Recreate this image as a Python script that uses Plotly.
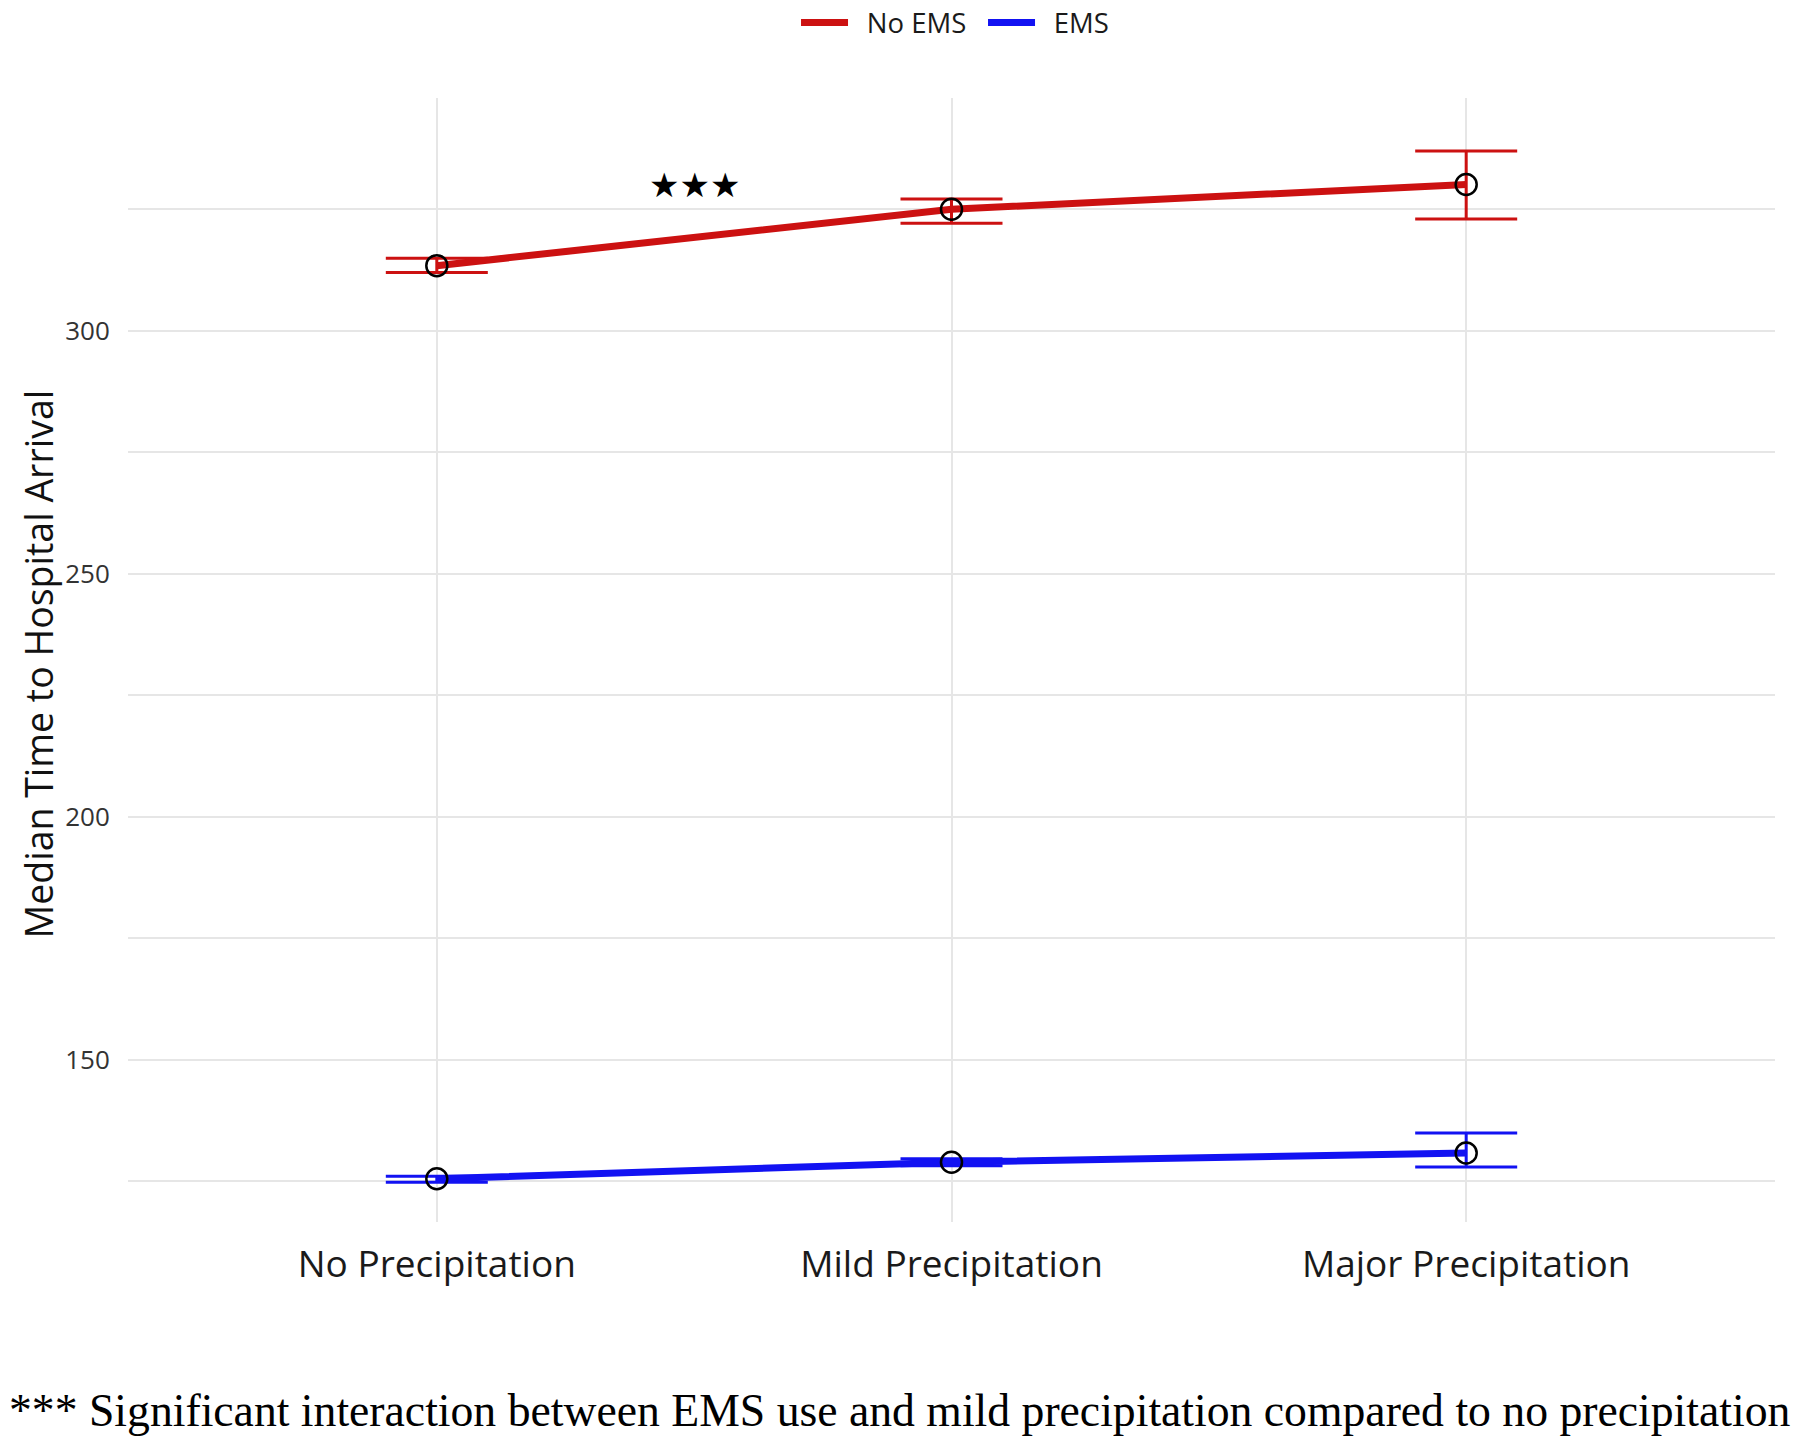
import plotly.graph_objects as go

categories = ["No Precipitation", "Mild Precipitation", "Major Precipitation"]

no_ems_median = [313.4, 325.0, 330.1]
no_ems_lower = [312.0, 322.1, 323.0]
no_ems_upper = [314.9, 327.1, 337.0]

ems_median = [125.5, 128.9, 130.8]
ems_lower = [124.8, 128.2, 127.9]
ems_upper = [126.0, 129.6, 134.9]

series = [
    ("No EMS", no_ems_median, no_ems_lower, no_ems_upper, "#CC1111"),
    ("EMS", ems_median, ems_lower, ems_upper, "#1212F2"),
]

y_ticks = [150, 200, 250, 300]
y_minor = [125, 175, 225, 275, 325]

fig = go.Figure()
for name, med, lo, hi, col in series:
    fig.add_trace(go.Scatter(
        x=categories, y=med, mode="lines", name="\u2002" + name,
        line=dict(color=col, width=7),
        error_y=dict(type="data", symmetric=False,
                     array=[h - m for h, m in zip(hi, med)],
                     arrayminus=[m - l for m, l in zip(med, lo)],
                     color=col, thickness=3, width=51),
    ))
for name, med, lo, hi, col in series:
    fig.add_trace(go.Scatter(
        x=categories, y=med, mode="markers", showlegend=False,
        marker=dict(symbol="circle-open", size=21, color="black",
                    line=dict(width=2.5, color="black")),
    ))

grid = "#E6E6E6"
fig.update_layout(
    width=1800, height=1443,
    margin=dict(l=128, r=25, t=98, b=221, autoexpand=False),
    plot_bgcolor="white", paper_bgcolor="white",
    font=dict(family="Open Sans", color="#222222"),
    showlegend=True,
    legend=dict(orientation="h", x=0.4056, xanchor="left", y=1.067, yanchor="middle",
                itemwidth=47, entrywidth=125, entrywidthmode="pixels",
                font=dict(size=27.5, color="#1a1a1a"), traceorder="normal"),
    xaxis=dict(type="category", range=[-0.6, 2.6], showgrid=True, gridcolor=grid, gridwidth=2,
               zeroline=False, showline=False, ticks="outside", ticklen=10,
               tickcolor="rgba(0,0,0,0)", tickfont=dict(size=37, color="#1a1a1a")),
    yaxis=dict(range=[116.6, 347.9], tickvals=y_ticks, showgrid=True, gridcolor=grid, gridwidth=2,
               zeroline=False, showline=False, ticks="outside", ticklen=12,
               tickcolor="rgba(0,0,0,0)", tickfont=dict(size=26, color="#333333"),
               minor=dict(tickvals=y_minor, showgrid=True, gridcolor=grid, gridwidth=2, ticks="")),
)

fig.add_annotation(x=0.5, y=330.0, xref="x", yref="y", text="★★★", showarrow=False,
                   font=dict(family="DejaVu Sans", size=34, color="black"))
fig.add_annotation(x=-0.0546, y=0.496, xref="paper", yref="paper", xanchor="center", yanchor="middle",
                   text="Median Time to Hospital Arrival", textangle=-90, showarrow=False,
                   font=dict(family="Open Sans", size=37.5, color="#111111"))
fig.add_annotation(x=0.4687, y=-0.1673, xref="paper", yref="paper", yanchor="middle",
                   text="*** Significant interaction between EMS use and mild precipitation compared to no precipitation",
                   showarrow=False,
                   font=dict(family="Liberation Serif, Times New Roman, serif", size=45.7, color="black"))

fig.write_html("out.html")
